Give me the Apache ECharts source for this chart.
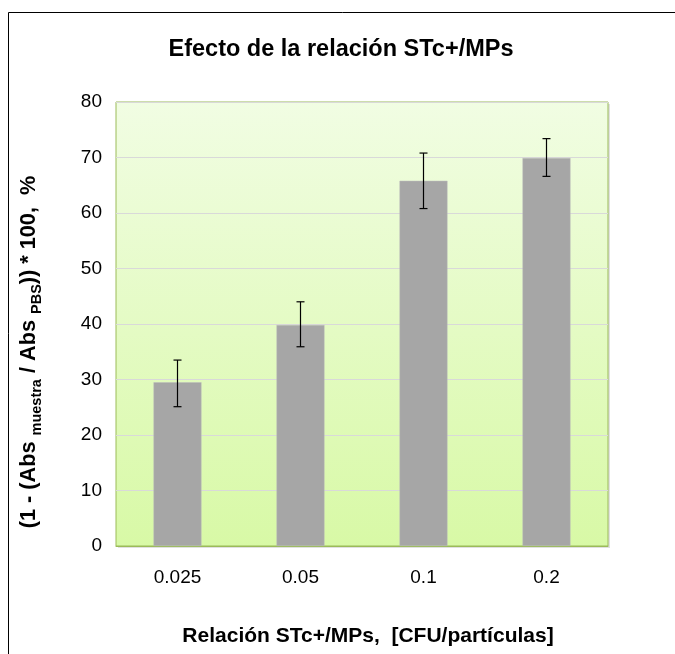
<!DOCTYPE html>
<html><head><meta charset="utf-8">
<script src="https://cdn.jsdelivr.net/npm/echarts@6/dist/echarts.min.js"></script>
<style>html,body{margin:0;padding:0;background:#fff}#c{width:675px;height:654px}</style>
</head><body><div id="c"></div>
<script>
const categories = ['0.025', '0.05', '0.1', '0.2'];
const values = [29.5, 39.8, 65.8, 69.9];
const errUpper = [33.5, 44.0, 70.8, 73.4];
const errLower = [25.1, 35.9, 60.8, 66.6];
const yTicks = [0, 10, 20, 30, 40, 50, 60, 70, 80];

const font = '"Liberation Sans", Arial, sans-serif';
const chart = echarts.init(document.getElementById('c'));
const errData = categories.map((c, i) => [i, errLower[i], errUpper[i]]);

chart.setOption({
  animation: false,
  graphic: [
    { type: 'rect', shape: { x: 8.5, y: 12.5, width: 800, height: 800 }, style: { fill: 'none', stroke: '#000', lineWidth: 1 }, z: -10 },
    { type: 'rect', shape: { x: 118, y: 104, width: 492, height: 444 }, style: { fill: 'rgba(0,0,0,0.12)' }, z: -5 }
  ],
  title: {
    text: 'Efecto de la relación STc+/MPs',
    left: 336, top: 33, textAlign: 'center',
    textStyle: { fontFamily: font, fontSize: 23.5, fontWeight: 'bold', color: '#000' }
  },
  grid: {
    left: 116, right: 67, top: 102, bottom: 108,
    show: true, borderColor: '#9bbb59', borderWidth: 1,
    backgroundColor: new echarts.graphic.LinearGradient(0, 0, 0, 1, [
      { offset: 0, color: '#f1fde3' }, { offset: 1, color: '#d8f9a6' }
    ])
  },
  xAxis: {
    type: 'category', data: categories,
    axisLine: { show: true, lineStyle: { color: '#9bbb59' } },
    axisTick: { show: false },
    axisLabel: { fontFamily: font, fontSize: 19, color: '#000', margin: 22 },
    name: 'Relación STc+/MPs,  [CFU/partículas]',
    nameLocation: 'middle', nameGap: 80,
    nameTextStyle: { fontFamily: font, fontSize: 21, fontWeight: 'bold', color: '#000', padding: [0, 0, 0, 12] }
  },
  yAxis: {
    type: 'value', min: yTicks[0], max: yTicks[yTicks.length - 1], interval: 10,
    axisLine: { show: false }, axisTick: { show: false },
    splitLine: { lineStyle: { color: '#d9d9d9', width: 1 } },
    axisLabel: { fontFamily: font, fontSize: 19, color: '#000', margin: 14 },
    name: '{m|(1 - (Abs }{s|muestra}{m| / Abs }{s|PBS}{m|)) * 100,  %}',
    nameLocation: 'middle', nameGap: 76, nameRotate: 90,
    nameTextStyle: {
      padding: [0, 56, 0, 0],
      rich: {
        m: { fontFamily: font, fontSize: 21.7, fontWeight: 'bold', color: '#000', lineHeight: 26, verticalAlign: 'bottom' },
        s: { fontFamily: font, fontSize: 14.5, fontWeight: 'bold', color: '#000', lineHeight: 26, verticalAlign: 'bottom', padding: [0, 0, -4, 0] }
      }
    }
  },
  series: [
    {
      type: 'bar', data: values, barWidth: '39%',
      itemStyle: { color: '#a6a6a6', borderColor: '#bdbdbd', borderWidth: 0.5 }
    },
    {
      type: 'custom', data: errData, z: 10,
      renderItem: function (params, api) {
        const x = api.value(0);
        const lo = api.coord([x, api.value(1)]);
        const hi = api.coord([x, api.value(2)]);
        const w = 4;
        const style = { stroke: '#000', lineWidth: 1.2 };
        return {
          type: 'group', children: [
            { type: 'line', shape: { x1: lo[0], y1: lo[1], x2: hi[0], y2: hi[1] }, style },
            { type: 'line', shape: { x1: lo[0] - w, y1: lo[1], x2: lo[0] + w, y2: lo[1] }, style },
            { type: 'line', shape: { x1: hi[0] - w, y1: hi[1], x2: hi[0] + w, y2: hi[1] }, style }
          ]
        };
      }
    }
  ]
});
</script></body></html>
